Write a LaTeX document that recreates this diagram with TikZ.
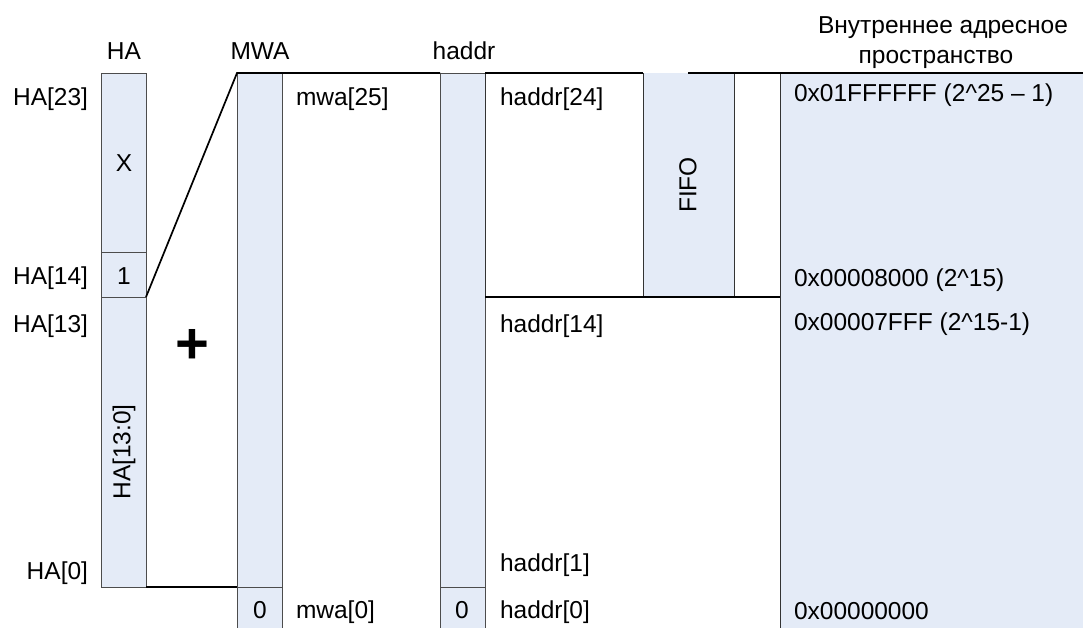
\documentclass[tikz,border=0pt]{standalone}
\usepackage{fontspec}
\setmainfont{Liberation Sans}
\definecolor{cellblue}{RGB}{228,235,247}
\begin{document}
\begin{tikzpicture}[x=1pt,y=-1pt,
  font=\fontsize{24.5}{28}\selectfont,
  cell/.style={fill=cellblue, draw=black!70, line width=0.8pt},
  wcell/.style={fill=white, draw=black!80, line width=0.8pt},
  heavy/.style={draw=black, line width=1.7pt},
  lbl/.style={inner sep=0pt, outer sep=0pt}]
\useasboundingbox (0,0) rectangle (1083,627);
% right address space column
\fill[cellblue] (780,73) rectangle (1090,640);
\draw[black!80, line width=0.9pt] (780,73) -- (780,640);
% HA column
\draw[cell] (101,73) rectangle (146,252);
\draw[cell] (101,252) rectangle (146,297);
\draw[cell] (101,297) rectangle (146,587);
% MWA column
\draw[cell] (237,73) rectangle (282,587);
\draw[cell] (237,587) rectangle (282,640);
% haddr column
\draw[cell] (440,73) rectangle (485,587);
\draw[cell] (440,587) rectangle (485,640);
% haddr[24] box, FIFO, blank cell
\draw[wcell] (485,73) rectangle (643,297);
\fill[cellblue] (643,73) rectangle (734,297);
\draw[black!80, line width=0.8pt] (643,73) -- (643,297);
\draw[black!80, line width=0.8pt] (734,73) -- (734,297);
% heavy lines
\coordinate (d1) at (146,297);
\coordinate (d2) at (237,73);
\coordinate (t1) at (440,73);
\coordinate (t2) at (485,73);
\coordinate (t3) at (643,73);
\coordinate (t4) at (688,73);
\coordinate (t5) at (1083,73);
\coordinate (m1) at (485,297);
\coordinate (m2) at (780,297);
\coordinate (b1) at (146,587);
\coordinate (b2) at (237,587);
\draw[heavy] (d1) -- (d2) -- (t1);
\draw[heavy] (t2) -- (t3);
\draw[heavy] (t4) -- (t5);
\draw[heavy] (m1) -- (m2);
\draw[heavy] (b1) -- (b2);
% headers
\node[lbl, anchor=base] (hHA) at (124,59) {HA};
\node[lbl, anchor=base] (hMWA) at (260,59) {MWA};
\node[lbl, anchor=base] (hhaddr) at (464,59) {haddr};
\node[lbl, anchor=base] (hsp1) at (943,33) {Внутреннее адресное};
\node[lbl, anchor=base] (hsp2) at (936,63) {пространство};
% left labels
\node[lbl, anchor=base east] (l23) at (88,105) {HA[23]};
\node[lbl, anchor=base east] (l14) at (88,284) {HA[14]};
\node[lbl, anchor=base east] (l13) at (88,332) {HA[13]};
\node[lbl, anchor=base east] (l0) at (88,579) {HA[0]};
% HA cells
\node[lbl, anchor=base] (cx) at (124,171) {X};
\node[lbl, anchor=base] (c1) at (124,284) {1};
\node[lbl, rotate=90] (c130) at (124,452) {HA[13:0]};
\node[lbl, anchor=base, font=\fontsize{58}{60}\selectfont\bfseries] (plus) at (192,363) {+};
% MWA
\node[lbl, anchor=base west] (mw25) at (296,105) {mwa[25]};
\node[lbl, anchor=base west] (mw0) at (296,618) {mwa[0]};
\node[lbl, anchor=base] (mz) at (260,618) {0};
% haddr
\node[lbl, anchor=base] (hz) at (462,618) {0};
\node[lbl, anchor=base west] (h24) at (500,105) {haddr[24]};
\node[lbl, anchor=base west] (h14) at (500,332) {haddr[14]};
\node[lbl, anchor=base west] (h1) at (500,571) {haddr[1]};
\node[lbl, anchor=base west] (h0) at (500,618) {haddr[0]};
\node[lbl, rotate=90] (fifo) at (688,185) {FIFO};
% address values
\node[lbl, anchor=base west] (a1) at (794,101) {0x01FFFFFF (2\^{}25 – 1)};
\node[lbl, anchor=base west] (a2) at (794,286) {0x00008000 (2\^{}15)};
\node[lbl, anchor=base west] (a3) at (794,330) {0x00007FFF (2\^{}15-1)};
\node[lbl, anchor=base west] (a4) at (794,619) {0x00000000};
\end{tikzpicture}
\end{document}
